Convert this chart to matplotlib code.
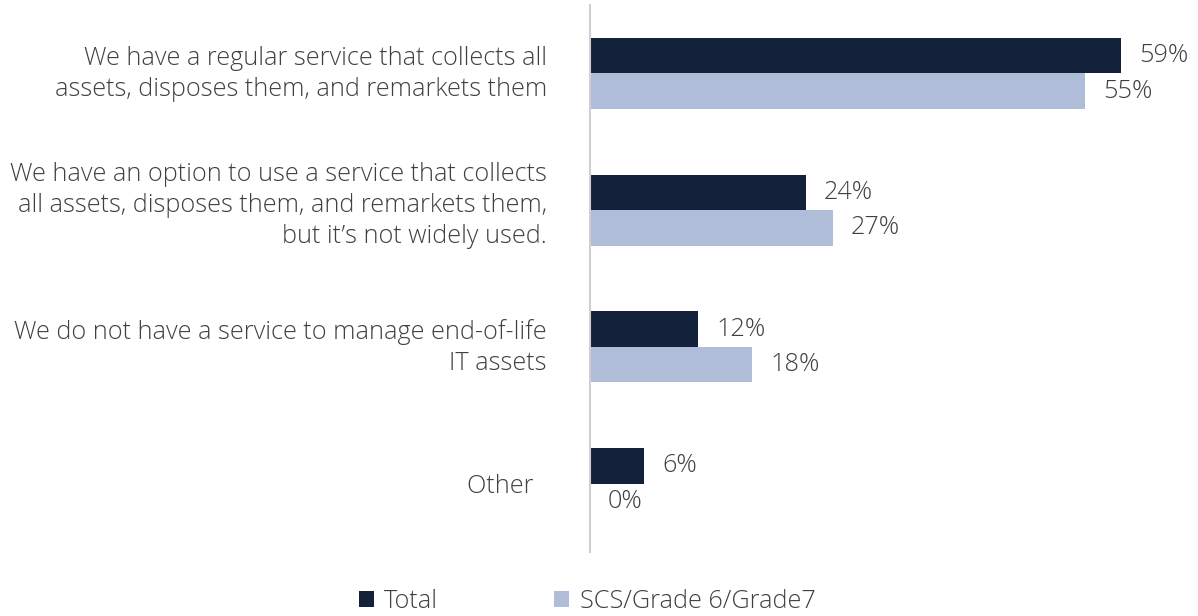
import matplotlib.pyplot as plt
import matplotlib.transforms as mtransforms
import numpy as np

categories = [
    "We have a regular service that collects all\nassets, disposes them, and remarkets them",
    "We have an option to use a service that collects\nall assets, disposes them, and remarkets them,\nbut it\u2019s not widely used.",
    "We do not have a service to manage end-of-life\nIT assets",
    "Other  ",
]
series_names = ["Total", "SCS/Grade 6/Grade7"]
total = [59, 24, 12, 6]
scs = [55, 27, 18, 0]

DARK = "#14213a"
LIGHT = "#afbdd8"
TEXT = "#404040"
FS = 18.2

plt.rcParams['font.family'] = ['Open Sans', 'DejaVu Sans']
plt.rcParams['font.weight'] = 'light'

fig = plt.figure(figsize=(11.98, 6.16), dpi=100)
ax = fig.add_axes([590 / 1198, 64 / 616, 594 / 1198, 547 / 616])

y = np.arange(len(categories))
h = 0.26
b1 = ax.barh(y - h / 2, total, height=h, color=DARK, label=series_names[0])
b2 = ax.barh(y + h / 2, scs, height=h, color=LIGHT, label=series_names[1])

for bars, vals in ((b1, total), (b2, scs)):
    for bar, v in zip(bars, vals):
        ax.annotate(f"{v}%", (v, bar.get_y() + bar.get_height() / 2),
                    xytext=(13, 0), textcoords='offset points',
                    va='center', ha='left', fontsize=FS, color=TEXT)

# category labels, nudged up a little more the more lines they have
base = ax.get_yaxis_transform()
for yi, label in zip(y, categories):
    nlines = label.count("\n") + 1
    shift = mtransforms.ScaledTranslation(-31 / 72, (nlines - 1) * 3.7 / 72,
                                          fig.dpi_scale_trans)
    ax.text(0, yi, label, transform=base + shift, ha='right',
            va='center_baseline', fontsize=FS, color=TEXT,
            linespacing=1.3, multialignment='right')

ax.set_xlim(0, 66)
ax.set_ylim(len(categories) - 0.5, -0.5)
ax.set_yticks([])
ax.set_xticks([])
for s in ('top', 'right', 'bottom'):
    ax.spines[s].set_visible(False)
ax.spines['left'].set_color('#d0d0d0')
ax.spines['left'].set_linewidth(1.5)

fig.legend(handles=[b1, b2], loc='center', bbox_to_anchor=(0.49, 0.023),
           ncol=2, frameon=False, fontsize=FS, labelcolor=TEXT,
           handlelength=0.6, handleheight=0.6, handletextpad=0.4,
           columnspacing=4.6)

fig.savefig("out.png", dpi=100)
